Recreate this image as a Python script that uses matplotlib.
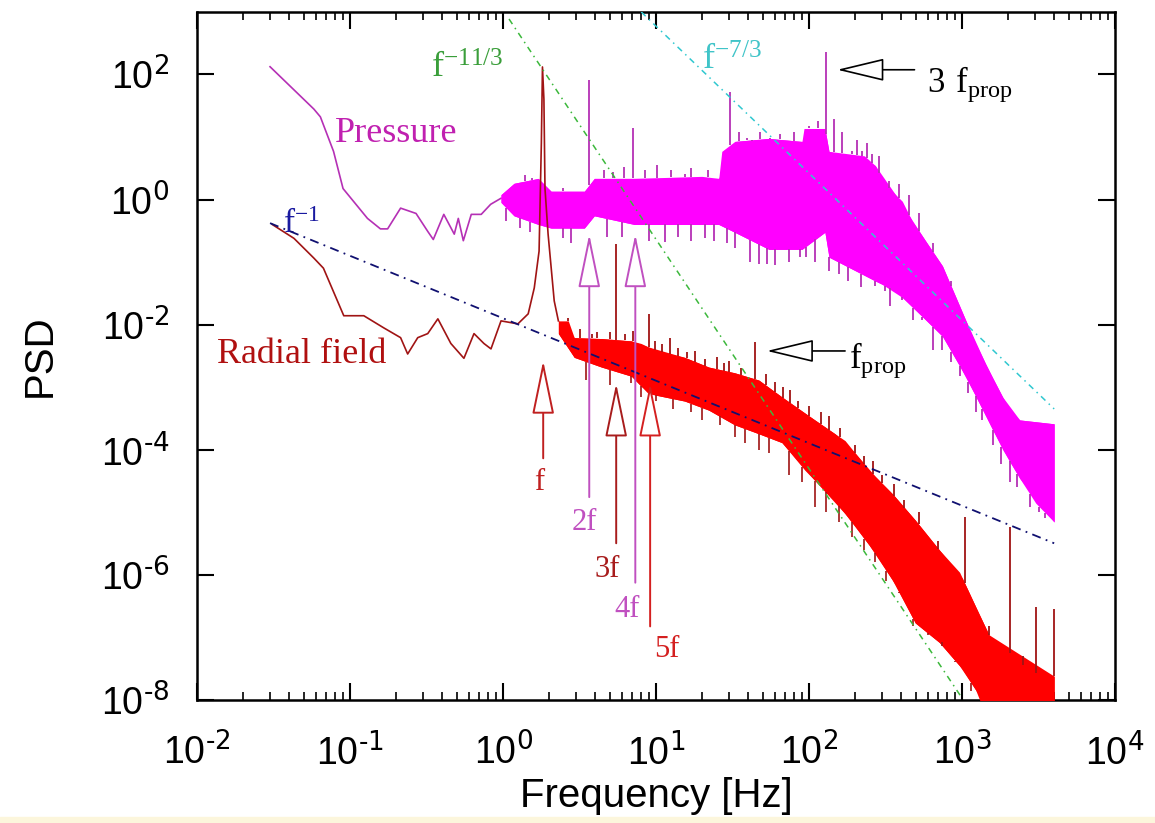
import numpy as np
import matplotlib
matplotlib.use("Agg")
import matplotlib.pyplot as plt
from matplotlib.ticker import FixedLocator, LogLocator, NullLocator, FuncFormatter
from matplotlib.patches import Rectangle

plt.rcParams['font.family'] = ['Liberation Sans', 'DejaVu Sans']
plt.rcParams['mathtext.default'] = 'regular'

# ---- pressure: low-frequency line ----
p_low_f = [0.030, 0.058, 0.064, 0.078, 0.090, 0.130, 0.158, 0.176, 0.214, 0.27, 0.322,
           0.35, 0.41, 0.48, 0.51, 0.55, 0.62, 0.72, 0.83, 0.97]
p_low_v = [133, 28, 21, 5.9, 1.5, 0.50, 0.34, 0.34, 0.73, 0.60, 0.31,
           0.23, 0.58, 0.28, 0.50, 0.22, 0.58, 0.58, 0.84, 1.05]

# ---- pressure: noisy band (upper / lower envelope) ----
p_up_f = [0.97, 1.18, 1.70, 2.06, 3.40, 3.95, 7.22, 19.9, 25.7, 26.9, 32.7, 54.7, 89.9,
          92.7, 127, 135, 230, 271, 301, 407, 473, 551, 745, 964, 1227, 1585, 2047,
          2382, 4000]
p_up_v = [1.2, 1.82, 2.18, 1.36, 1.36, 2.18, 2.18, 2.35, 2.18, 5.9, 8.5, 9.5, 8.5,
          13.7, 13.7, 5.9, 5.0, 3.5, 1.95, 0.94, 0.45, 0.26, 0.087, 0.020, 0.0050,
          0.0014, 4.3e-4, 3.0e-4, 2.6e-4]
p_lo_f = [0.97, 1.18, 1.70, 2.06, 3.40, 3.95, 7.22, 25.7, 32.7, 54.7, 89.9, 127, 135,
          271, 366, 577, 745, 1054, 1426, 1845, 2382, 3034, 4000]
p_lo_v = [0.9, 0.55, 0.40, 0.35, 0.35, 0.55, 0.40, 0.40, 0.30, 0.16, 0.16, 0.30, 0.12,
          0.05, 0.035, 0.012, 0.0065, 0.0015, 3.5e-4, 1.0e-4, 3.5e-5, 1.4e-5, 7e-6]
p_spike_f = [1.18, 1.4, 1.55, 2.47, 2.79, 3.66, 4.6, 5.2, 6.2, 7.11, 8.5, 10.1, 12.5,
             15.4, 17, 22, 30.3, 35, 39.2, 42.3, 48, 55.5, 65, 80, 100, 115, 129, 146,
             165, 191, 205, 223, 240, 259, 285, 335, 389, 450, 520, 650, 850]
p_spike_v = [1.82, 2.5, 2.2, 1.51, 1.36, 82, 3.0, 2.8, 3.3, 13.7, 3.0, 3.6, 3.0,
             2.6, 3.2, 3.0, 53, 12, 9.5, 8.5, 12, 9.5, 11, 12, 15, 18, 230, 19.7,
             12, 5.9, 9, 5.9, 8, 5.3, 5, 1.95, 1.8, 1.2, 0.6, 0.2, 0.05]
p_dip_f = [1.05, 1.3, 1.5, 2.47, 2.79, 4.8, 6, 9, 11.4, 14, 17, 20.8, 24, 29, 32.7, 41,
           47, 53.1, 60, 74, 87.3, 95, 110, 135, 157, 180, 220, 271, 315, 340, 407, 480,
           551, 650, 745, 850, 964, 1100, 1227, 1350, 1585, 1800, 2047, 2300, 2773,
           3200, 3500]
p_dip_v = [0.45, 0.35, 0.3, 0.242, 0.20, 0.25, 0.25, 0.22, 0.21, 0.25, 0.22, 0.24, 0.22,
           0.2, 0.17, 0.10, 0.093, 0.093, 0.09, 0.10, 0.12, 0.12, 0.1, 0.072, 0.065,
           0.05, 0.04, 0.042, 0.035, 0.02, 0.025, 0.012, 0.012, 0.004, 0.004, 0.0025,
           0.0015, 8e-4, 4e-4, 3e-4, 1.2e-4, 6e-5, 3e-5, 2.5e-5, 1.2e-5, 1e-5, 8e-6]

# ---- radial field: low-frequency line with the f peak ----
r_low_f = [0.031, 0.043, 0.058, 0.067, 0.091, 0.123, 0.166, 0.214, 0.238, 0.277, 0.322,
           0.375, 0.456, 0.555, 0.646, 0.750, 0.834, 0.97, 1.25, 1.46, 1.60, 1.72,
           1.78, 1.81, 1.85, 1.88, 1.97, 2.16, 2.30]
r_low_v = [0.40, 0.24, 0.116, 0.080, 0.0139, 0.0139, 0.0089, 0.0062, 0.0034, 0.0062,
           0.0072, 0.0124, 0.0050, 0.0029, 0.0072, 0.0050, 0.0041, 0.0115, 0.0103,
           0.0149, 0.0387, 0.15, 8.0, 132, 40, 1.5, 0.28, 0.024, 0.0115]

# ---- radial field: noisy band ----
r_up_f = [2.30, 2.67, 2.92, 4.4, 6.9, 8.0, 10.1, 15.4, 22.1, 32.7, 47, 66.5, 109, 172,
          247, 350, 495, 711, 964, 1227, 1585, 2047, 2773, 4000]
r_up_v = [0.0115, 0.0115, 0.0062, 0.0060, 0.0055, 0.0050, 0.0038, 0.0030, 0.0021,
          0.0017, 0.0013, 7e-4, 3e-4, 1.4e-4, 4.7e-5, 2.0e-5, 7.5e-6, 2.5e-6, 1.1e-6,
          3.1e-7, 8.3e-8, 5.7e-8, 2.8e-8, 2.4e-8]
r_lo_f = [2.30, 2.92, 4.4, 6.9, 8.9, 15.4, 22.1, 32.7, 47, 66.5, 94, 148, 200, 271,
          366, 495, 711, 1007, 1303, 1500, 4000]
r_lo_v = [0.0072, 0.0030, 0.0021, 0.0015, 7.9e-4, 6e-4, 4.3e-4, 2.5e-4, 1.8e-4, 1.3e-4,
          4.7e-5, 1.5e-5, 6e-6, 2.2e-6, 7e-7, 1.7e-7, 8.3e-8, 3.1e-8, 1.15e-8, 3e-9, 3e-9]
r_spike_f = [2.67, 3.2, 3.8, 4.1, 5.0, 5.51, 6.3, 7.11, 8.93, 9.8, 11, 12.3, 14, 16, 18,
             21, 25, 28, 30, 36, 44.3, 52, 60, 68, 75, 85, 100, 120, 135, 160, 200, 230,
             260, 300, 360, 420, 520, 700, 1038, 1500, 2047, 2500, 3034, 4000]
r_spike_v = [0.013, 0.0085, 0.007, 0.0075, 0.0075, 0.194, 0.0072, 0.0080, 0.0149,
             0.0055, 0.005, 0.0062, 0.0042, 0.0036, 0.0038, 0.0028, 0.0030, 0.0024,
             0.0026, 0.0020, 0.0052, 0.0016, 0.0012, 1.0e-3, 9e-4, 6e-4, 5e-4, 4e-4,
             3.5e-4, 2.2e-4, 1.2e-4, 8e-5, 6.5e-5, 4e-5, 2.8e-5, 1.6e-5, 1e-5, 3.5e-6,
             8.4e-6, 1.5e-7, 5.8e-6, 5e-8, 3.1e-7, 2.8e-7]
r_dip_f = [3.5, 5, 6.9, 8, 10, 13, 17, 20, 26, 32.7, 38, 47, 55, 74, 90, 110, 130, 157,
           190, 230, 271, 320, 389, 480, 600, 745, 900, 1150]
r_dip_v = [0.0013, 0.0011, 0.00115, 7e-4, 6e-4, 4.5e-4, 4e-4, 3e-4, 2.5e-4, 1.6e-4,
           1.3e-4, 1.0e-4, 9e-5, 4e-5, 3e-5, 1.2e-5, 1.0e-5, 7e-6, 4e-6, 2.5e-6, 1.6e-6,
           8e-7, 5.2e-7, 1.5e-7, 1.1e-7, 8.3e-8, 4e-8, 1.4e-8]

# ---- power-law guide lines (end points) ----
fit11_f, fit11_v = [1.094, 1000], [771, 1.07e-8]
fit7_f, fit7_v = [8.0, 4000], [1000, 4.5e-4]
fit1_f, fit1_v = [0.03, 4000], [0.42, 3.2e-6]

# ---- harmonics of the fundamental ----
f0 = 1.83
harm_n = [1, 2, 3, 4, 5]
harm_lbl = ['f', '2f', '3f', '4f', '5f']
harm_col = ['#c02020', '#c050c0', '#a81c1c', '#c050c0', '#d42020']
harm_tail = [7.3e-5, 1.75e-5, 3.2e-6, 7.5e-7, 1.5e-7]
harm_tip = [0.00266, 0.28, 0.00115, 0.28, 0.00115]
harm_txt_f = [1.72, 3.40, 4.81, 6.5, 11.7]
harm_txt_v = [2.3e-5, 5.2e-6, 9.3e-7, 2.1e-7, 4.95e-8]


def logi(x, xp, fp):
    return 10 ** np.interp(np.log10(x), np.log10(xp), np.log10(fp))


fig = plt.figure(figsize=(11.55, 8.23), dpi=100)
fig.patches.append(Rectangle((0, 0), 1, 0.007, transform=fig.transFigure,
                             color='#fcf6dc', zorder=-1))
ax = fig.add_axes([0.1706, 0.1495, 0.7948, 0.836])
ax.set_xscale('log')
ax.set_yscale('log')

# pressure
mag = '#ff00ff'
magd = '#b530b5'
ax.plot(p_low_f, p_low_v, color=magd, lw=1.2, zorder=2)
ax.fill_between(p_up_f, logi(p_up_f, p_lo_f, p_lo_v), p_up_v, color=mag, lw=0, zorder=2)
ax.fill_between(p_lo_f, p_lo_v, logi(p_lo_f, p_up_f, p_up_v), color=mag, lw=0, zorder=2)
ax.vlines(p_spike_f, logi(p_spike_f, p_up_f, p_up_v), p_spike_v, color=magd, lw=1.3, zorder=2)
ax.vlines(p_dip_f, p_dip_v, logi(p_dip_f, p_lo_f, p_lo_v), color=magd, lw=1.3, zorder=2)

# radial field
red = '#ff0000'
redd = '#a01414'
ax.plot(r_low_f, r_low_v, color=redd, lw=1.2, zorder=3)
ax.fill_between(r_up_f, logi(r_up_f, r_lo_f, r_lo_v), r_up_v, color=red, lw=0, zorder=3)
ax.fill_between(r_lo_f, r_lo_v, logi(r_lo_f, r_up_f, r_up_v), color=red, lw=0, zorder=3)
ax.vlines(r_spike_f, logi(r_spike_f, r_up_f, r_up_v), r_spike_v, color=redd, lw=1.3, zorder=3)
ax.vlines(r_dip_f, r_dip_v, logi(r_dip_f, r_lo_f, r_lo_v), color=redd, lw=1.2, zorder=3)

# guide lines
ax.plot(fit11_f, fit11_v, color='#3cb83c', lw=1.1, ls=(0, (4, 3, 1, 3)), zorder=4)
ax.plot(fit7_f, fit7_v, color='#30c8d0', lw=1.1, ls=(0, (4, 3, 1, 3)), zorder=4)
ax.plot(fit1_f, fit1_v, color='#101070', lw=1.3, ls=(0, (5, 3, 1, 3)), zorder=4)

serif = ['Liberation Serif', 'DejaVu Serif']
ax.text(0.337, 88, r'$f^{-11/3}$', color='#3a9e3a', fontsize=26, family=serif)
ax.text(19.9, 119, r'$f^{-7/3}$', color='#40c4c8', fontsize=26, family=serif)
ax.text(0.0366, 0.29, r'$f^{-1}$', color='#1a1aa0', fontsize=24, family=serif)
ax.text(0.080, 11.4, 'Pressure', color='#c020b0', fontsize=26, family=serif, va='center')
ax.text(0.0135, 0.0033, 'Radial field', color='#b01010', fontsize=26, family=serif,
        va='center')

# harmonic arrows
for n, lbl, c, y0, y1, tx, ty in zip(harm_n, harm_lbl, harm_col, harm_tail, harm_tip,
                                     harm_txt_f, harm_txt_v):
    ax.annotate('', xy=(n * f0, y1), xytext=(n * f0, y0), zorder=6,
                arrowprops=dict(arrowstyle='-|>,head_length=3.4,head_width=0.7',
                                mutation_scale=10, fc='white', ec=c, lw=1.4,
                                shrinkA=0, shrinkB=0))
    ax.text(tx, ty, lbl, color=c, fontsize=22, family=serif, ha='center', zorder=6)

# propagation frequency markers
for tip, tail, yv, tx, ty, lbl in [(53, 172, 0.0038, 183, 0.0020, r'$f_{prop}$'),
                                   (153, 489, 119, 594, 53, r'$3\ f_{prop}$')]:
    ax.annotate('', xy=(tip, yv), xytext=(tail, yv), zorder=6,
                arrowprops=dict(arrowstyle='-|>,head_length=3.0,head_width=0.72',
                                mutation_scale=10, fc='white', ec='black', lw=1.2,
                                shrinkA=0, shrinkB=0))
    ax.text(tx, ty, lbl, color='black', fontsize=25, family=serif, zorder=6)

ax.set_xlim(1e-2, 1e4)
ax.set_ylim(1e-8, 1e3)
ax.xaxis.set_major_locator(LogLocator(base=10, numticks=20))
ax.xaxis.set_minor_locator(LogLocator(base=10, subs=np.arange(2, 10), numticks=20))
ax.yaxis.set_major_locator(FixedLocator([1e-8, 1e-6, 1e-4, 1e-2, 1, 1e2]))
ax.yaxis.set_minor_locator(NullLocator())
fmt = FuncFormatter(lambda v, _: r'$10^{\text{%d}}$' % int(round(np.log10(v))))
ax.xaxis.set_major_formatter(fmt)
ax.yaxis.set_major_formatter(fmt)
ax.tick_params(which='both', direction='in', top=True, right=True, labelsize=27)
ax.tick_params(which='major', length=12, width=1.5)
ax.tick_params(which='minor', length=6, width=1.2)
ax.tick_params(axis='x', pad=24)
ax.tick_params(axis='y', pad=20)
for s in ax.spines.values():
    s.set_linewidth(1.8)

ax.set_xlabel('Frequency [Hz]', fontsize=29, labelpad=3)
ax.set_ylabel('PSD', fontsize=29, labelpad=30)

fig.savefig('out.png', dpi=100)
